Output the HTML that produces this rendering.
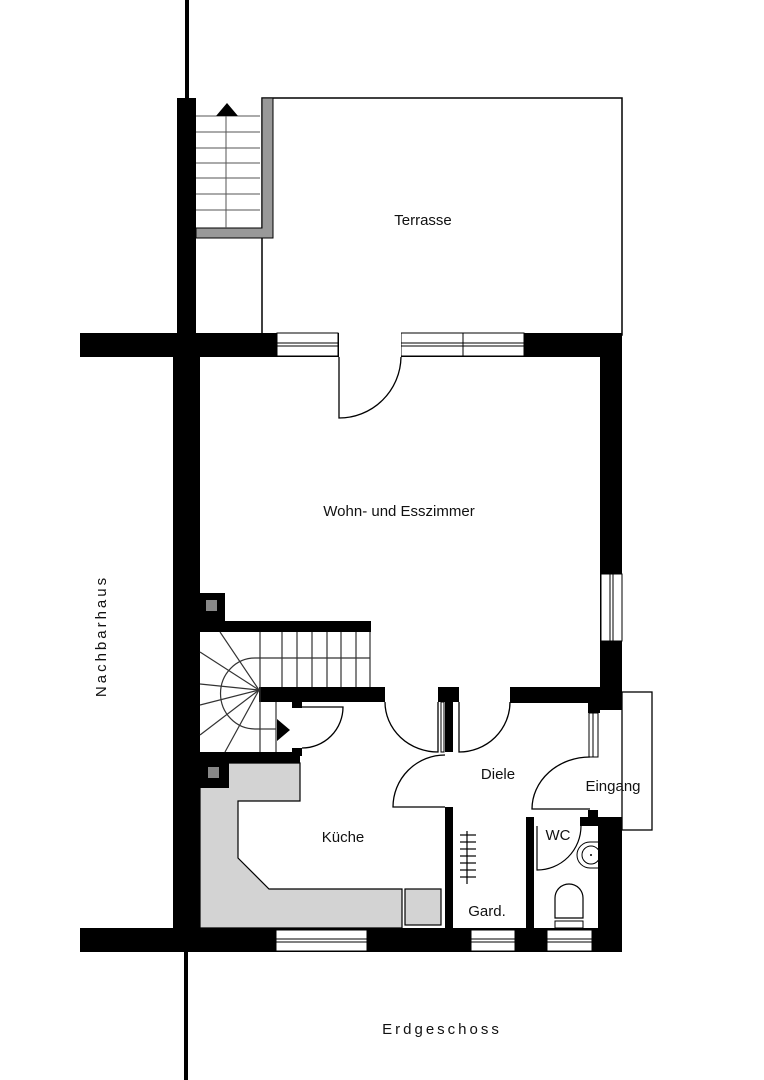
<!DOCTYPE html>
<html><head><meta charset="utf-8"><style>
html,body{margin:0;padding:0;background:#fff;}
svg{display:block}
text{font-family:"Liberation Sans",sans-serif;fill:#111;}
</style></head><body>
<svg width="764" height="1080" viewBox="0 0 764 1080" xmlns="http://www.w3.org/2000/svg">
<rect width="764" height="1080" fill="#fff"/>
<!-- property lines -->
<rect x="185" y="0" width="4" height="100" fill="#000"/>
<rect x="184" y="950" width="4" height="130" fill="#000"/>
<!-- terrace -->
<rect x="262" y="98" width="360" height="237" fill="none" stroke="#000" stroke-width="1.5"/>
<rect x="177" y="98" width="19" height="240" fill="#000"/>
<path d="M196 228 H262 V98 H273 V238 H196 Z" fill="#999" stroke="#000" stroke-width="1"/>
<g stroke="#555" stroke-width="1">
<line x1="226" y1="112" x2="226" y2="228"/>
<line x1="196" y1="116" x2="260" y2="116"/><line x1="196" y1="132" x2="260" y2="132"/>
<line x1="196" y1="148" x2="260" y2="148"/><line x1="196" y1="163" x2="260" y2="163"/>
<line x1="196" y1="178" x2="260" y2="178"/><line x1="196" y1="194" x2="260" y2="194"/>
<line x1="196" y1="210" x2="260" y2="210"/>
</g>
<polygon points="216,116 227,103 238,116" fill="#000"/>
<text x="423" y="225" font-size="15" text-anchor="middle">Terrasse</text>
<!-- main walls -->
<rect x="80" y="333" width="542" height="24" fill="#000"/>
<rect x="173" y="333" width="27" height="619" fill="#000"/>
<rect x="600" y="333" width="22" height="377" fill="#000"/>
<rect x="80" y="928" width="542" height="24" fill="#000"/>
<!-- top windows -->
<g fill="#fff" stroke="#000" stroke-width="1">
<rect x="277" y="333" width="61" height="23"/>
<rect x="401" y="333" width="62" height="23"/>
<rect x="463" y="333" width="61" height="23"/>
<rect x="339" y="332" width="62" height="26" stroke="none"/>
</g>
<g stroke="#000" stroke-width="1">
<line x1="277" y1="343" x2="338" y2="343"/><line x1="277" y1="346" x2="338" y2="346"/>
<line x1="401" y1="343" x2="524" y2="343"/><line x1="401" y1="346" x2="524" y2="346"/>
</g>
<path d="M339 357 V418 A62 62 0 0 0 401 357" fill="none" stroke="#000" stroke-width="1.3"/>
<!-- right window -->
<rect x="601" y="574" width="21" height="67" fill="#fff" stroke="#000" stroke-width="1"/>
<line x1="610" y1="574" x2="610" y2="641" stroke="#000"/><line x1="613" y1="574" x2="613" y2="641" stroke="#000"/>
<text x="399" y="516" font-size="15" text-anchor="middle">Wohn-  und  Esszimmer</text>
<!-- stair walls -->
<rect x="200" y="593" width="25" height="39" fill="#000"/>
<rect x="206" y="600" width="11" height="11" fill="#888"/>
<rect x="200" y="621" width="171" height="11" fill="#000"/>
<rect x="259" y="687" width="126" height="15" fill="#000"/>
<rect x="292" y="700" width="10" height="8" fill="#000"/>
<rect x="438" y="687" width="21" height="15" fill="#000"/>
<rect x="445" y="700" width="8" height="52" fill="#000"/>
<rect x="441" y="702" width="3" height="50" fill="none" stroke="#000" stroke-width="1"/>
<rect x="510" y="687" width="112" height="16" fill="#000"/>
<rect x="588" y="703" width="12" height="10" fill="#000"/>
<!-- stairs -->
<g stroke="#333" stroke-width="1.2" fill="none">
<line x1="282" y1="632" x2="282" y2="687"/><line x1="297" y1="632" x2="297" y2="687"/>
<line x1="312" y1="632" x2="312" y2="687"/><line x1="327" y1="632" x2="327" y2="687"/>
<line x1="341" y1="632" x2="341" y2="687"/><line x1="356" y1="632" x2="356" y2="687"/>
<line x1="370" y1="632" x2="370" y2="687"/><line x1="260" y1="632" x2="260" y2="752"/>
<line x1="260" y1="658" x2="370" y2="658"/>
<line x1="276" y1="702" x2="276" y2="752"/>
<line x1="260" y1="729" x2="276" y2="729"/>
<path d="M260 658 H255 A34 35 0 0 0 255 729 H260"/>
<line x1="259" y1="690" x2="220" y2="632"/><line x1="259" y1="690" x2="200" y2="652"/>
<line x1="259" y1="690" x2="200" y2="684"/><line x1="259" y1="690" x2="200" y2="705"/>
<line x1="259" y1="690" x2="200" y2="735"/><line x1="259" y1="690" x2="225" y2="752"/>
</g>
<polygon points="277,719 290,730 277,741" fill="#000"/>
<path d="M302 707 H343 A41 41 0 0 1 302 748" fill="none" stroke="#000" stroke-width="1.3"/>
<rect x="292" y="748" width="10" height="8" fill="#000"/>
<!-- doors -->
<path d="M438 702 V752 A53 50 0 0 1 385 702" fill="none" stroke="#000" stroke-width="1.3"/>
<path d="M459 702 V752 A51 50 0 0 0 510 702" fill="none" stroke="#000" stroke-width="1.3"/>
<path d="M445 807 H393 A52 52 0 0 1 445 755" fill="none" stroke="#000" stroke-width="1.3"/>
<!-- kitchen -->
<rect x="200" y="752" width="100" height="11" fill="#000"/>
<path d="M200 763 H300 V801 H238 V858 L269 889 H402 V928 H200 Z" fill="#d3d3d3" stroke="#000" stroke-width="1.2"/>
<rect x="200" y="762" width="29" height="26" fill="#000"/>
<rect x="208" y="767" width="11" height="11" fill="#888"/>
<rect x="405" y="889" width="36" height="36" fill="#d3d3d3" stroke="#000" stroke-width="1.2"/>
<rect x="445" y="807" width="8" height="121" fill="#000"/>
<text x="343" y="842" font-size="15" text-anchor="middle">Küche</text>
<!-- entrance -->
<rect x="622" y="692" width="30" height="138" fill="none" stroke="#000" stroke-width="1.3"/>
<rect x="589" y="713" width="9" height="44" fill="#fff" stroke="#000" stroke-width="1"/>
<line x1="593" y1="713" x2="593" y2="757" stroke="#000"/>
<path d="M590 809 H532 A58 52 0 0 1 590 757" fill="none" stroke="#000" stroke-width="1.3"/>
<text x="498" y="779" font-size="15" text-anchor="middle">Diele</text>
<text x="613" y="791" font-size="15" text-anchor="middle">Eingang</text>
<!-- WC -->
<rect x="526" y="817" width="8" height="111" fill="#000"/>
<rect x="580" y="817" width="42" height="9" fill="#000"/>
<rect x="588" y="810" width="10" height="8" fill="#000"/>
<rect x="598" y="817" width="24" height="135" fill="#000"/>
<path d="M537 826 V870 A44 44 0 0 0 581 826" fill="none" stroke="#000" stroke-width="1.2"/>
<path d="M598 842 H590 A13 13 0 0 0 590 868 H598" fill="#fff" stroke="#000" stroke-width="1"/>
<circle cx="591" cy="855" r="9" fill="none" stroke="#000"/>
<circle cx="591" cy="855" r="1" fill="#000"/>
<path d="M555 918 V898 A14 14 0 0 1 583 898 V918 Z" fill="#fff" stroke="#000" stroke-width="1.2"/>
<rect x="555" y="921" width="28" height="7" fill="#fff" stroke="#000" stroke-width="1"/>
<text x="558" y="840" font-size="15" text-anchor="middle">WC</text>
<!-- coat rail -->
<g stroke="#000" stroke-width="1.2">
<line x1="467" y1="831" x2="467" y2="884"/>
<line x1="460" y1="835" x2="476" y2="835"/><line x1="460" y1="842" x2="476" y2="842"/>
<line x1="460" y1="849" x2="476" y2="849"/><line x1="460" y1="856" x2="476" y2="856"/>
<line x1="460" y1="863" x2="476" y2="863"/><line x1="460" y1="870" x2="476" y2="870"/>
<line x1="460" y1="877" x2="476" y2="877"/>
</g>
<text x="487" y="916" font-size="15" text-anchor="middle">Gard.</text>
<!-- bottom windows -->
<g fill="#fff" stroke="#000" stroke-width="1">
<rect x="276" y="930" width="91" height="21"/>
<rect x="471" y="930" width="44" height="21"/>
<rect x="547" y="930" width="45" height="21"/>
</g>
<g stroke="#000" stroke-width="1">
<line x1="276" y1="939" x2="367" y2="939"/><line x1="276" y1="942" x2="367" y2="942"/>
<line x1="471" y1="939" x2="515" y2="939"/><line x1="471" y1="942" x2="515" y2="942"/>
<line x1="547" y1="939" x2="592" y2="939"/><line x1="547" y1="942" x2="592" y2="942"/>
</g>
<!-- labels -->
<text x="442" y="1034" font-size="15" text-anchor="middle" letter-spacing="3">Erdgeschoss</text>
<text transform="translate(106,636) rotate(-90)" font-size="15" text-anchor="middle" letter-spacing="3">Nachbarhaus</text>
</svg>
</body></html>
